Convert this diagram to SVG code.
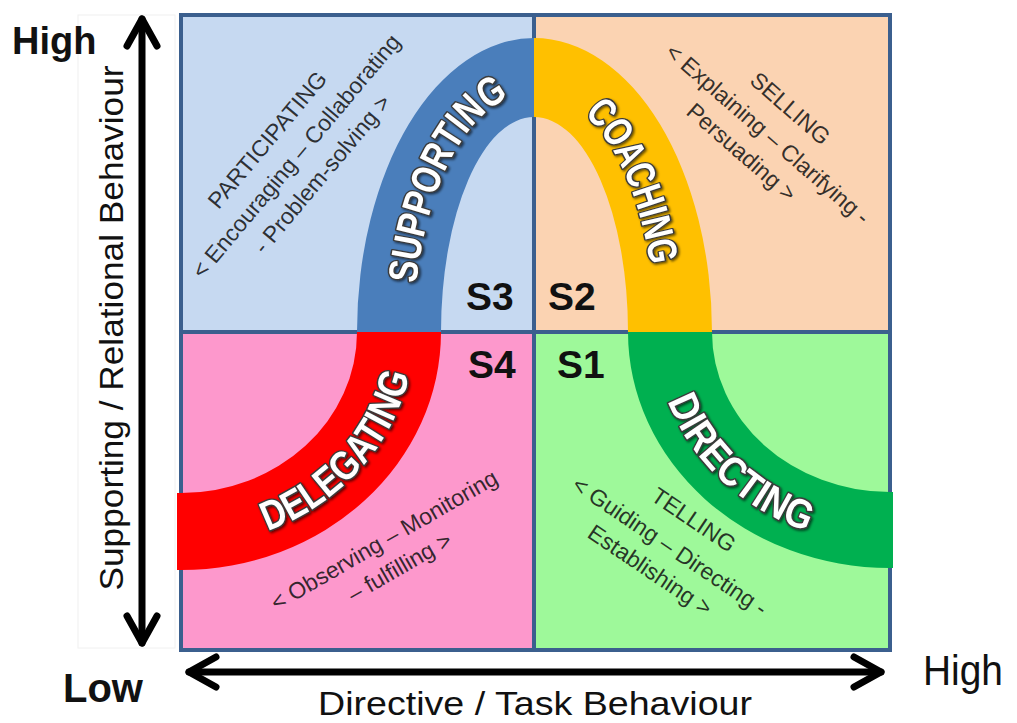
<svg xmlns="http://www.w3.org/2000/svg" width="1017" height="723" viewBox="0 0 1017 723">
<defs>
<style>
.q{stroke:none}
.grid{fill:none;stroke:#3b5f8e;stroke-width:4}
.band{stroke:none}
.arc{font-family:"Liberation Sans",Arial,sans-serif;font-weight:bold;font-size:41px;fill:#ffffff;stroke:#3a3a3a;stroke-width:3;paint-order:stroke;stroke-linejoin:round;filter:url(#sh)}
.desc{font-family:"Liberation Sans",Arial,sans-serif;font-size:23px;fill:#111;fill-opacity:0.86;text-anchor:middle}
.sl{font-family:"Liberation Sans",Arial,sans-serif;font-weight:bold;font-size:39px;fill:#111}
.ax{font-family:"Liberation Sans",Arial,sans-serif;fill:#111}
.axis{fill:none;stroke:#000;stroke-width:7;stroke-linecap:round}
</style>
<filter id="sh" x="-20%" y="-20%" width="140%" height="140%">
<feDropShadow dx="1.5" dy="1.5" stdDeviation="1.2" flood-color="#000" flood-opacity="0.6"/>
</filter>
<marker id="chev" markerUnits="userSpaceOnUse" viewBox="-40 -25 50 50" refX="0" refY="0" markerWidth="50" markerHeight="50" orient="auto-start-reverse" overflow="visible">
<path d="M-27,-15 L0,0 L-27,15" fill="none" stroke="#000" stroke-width="7" stroke-linecap="round" stroke-linejoin="round"/>
</marker>
<path id="pBlue" d="M414,332 A120,239.5 0 0 1 534,92.5"/>
<path id="pYellow" d="M534,92.5 A121,239.5 0 0 1 655,332"/>
<path id="pGreen" d="M655,332 A235,213 0 0 0 890,545"/>
<path id="pRed" d="M181,546.5 A233,214.5 0 0 0 414,332"/>
</defs>
<rect width="1017" height="723" fill="#ffffff"/>

<g id="quadrants">
<rect class="q" x="181" y="15" width="353" height="317" fill="#c6d9f1"/>
<rect class="q" x="534" y="15" width="356" height="317" fill="#fbd3b2"/>
<rect class="q" x="181" y="332" width="353" height="318" fill="#fd98cc"/>
<rect class="q" x="534" y="332" width="356" height="318" fill="#9ef99a"/>
<rect class="grid" x="181" y="15" width="709" height="635"/>
<line class="grid" x1="534" y1="15" x2="534" y2="650"/>
<line class="grid" x1="181" y1="332" x2="890" y2="332"/>
</g>

<g id="band-s3">
<path class="band" fill="#4a7ebb" d="M357,332 A177,294 0 0 1 534,38 L534,117 A93,215 0 0 0 441,332 Z"/>
<text class="arc"><textPath href="#pBlue" startOffset="54%" text-anchor="middle" textLength="216" lengthAdjust="spacingAndGlyphs">SUPPORTING</textPath></text>
</g>
<g id="band-s2">
<path class="band" fill="#ffc000" d="M534,38 A178,294 0 0 1 712,332 L628,332 A94,215 0 0 0 534,117 Z"/>
<text class="arc"><textPath href="#pYellow" startOffset="48%" text-anchor="middle" textLength="168" lengthAdjust="spacingAndGlyphs">COACHING</textPath></text>
</g>
<g id="band-s1">
<path class="band" fill="#00b050" d="M628,332 A262,236 0 0 0 890,568 L893,568 L893,492 L890,492 A178,160 0 0 1 712,332 Z"/>
<text class="arc"><textPath href="#pGreen" startOffset="48%" text-anchor="middle" textLength="197" lengthAdjust="spacingAndGlyphs">DIRECTING</textPath></text>
</g>
<g id="band-s4">
<path class="band" fill="#ff0000" d="M441,332 A260,238 0 0 1 181,570 L177,570 L177,493 L181,493 A176,161 0 0 0 357,332 Z"/>
<text class="arc"><textPath href="#pRed" startOffset="56.5%" text-anchor="middle" textLength="220" lengthAdjust="spacingAndGlyphs">DELEGATING</textPath></text>
</g>

<g id="desc-participating" transform="translate(296,156) rotate(-50)">
<text class="desc" x="-6" y="-24.5">PARTICIPATING</text>
<text class="desc" x="0" y="8">&lt; Encouraging – Collaborating</text>
<text class="desc" x="3" y="39.5">- Problem-solving &gt;</text>
</g>
<g id="desc-selling" transform="translate(768,134) rotate(41)">
<text class="desc" x="0" y="-26">SELLING</text>
<text class="desc" x="0" y="8">&lt; Explaining – Clarifying -</text>
<text class="desc" x="-8" y="39">Persuading &gt;</text>
</g>
<g id="desc-delegating" transform="translate(384,540) rotate(-30)">
<text class="desc" x="0" y="8">&lt; Observing – Monitoring</text>
<text class="desc" x="0" y="39">– fulfilling &gt;</text>
</g>
<g id="desc-telling" transform="translate(670,546) rotate(34)">
<text class="desc" x="5" y="-27">TELLING</text>
<text class="desc" x="0" y="8">&lt; Guiding – Directing -</text>
<text class="desc" x="-3" y="39">Establishing &gt;</text>
</g>

<g id="labels-s">
<text class="sl" x="466" y="310">S3</text>
<text class="sl" x="548" y="310">S2</text>
<text class="sl" x="468" y="378">S4</text>
<text class="sl" x="557" y="378">S1</text>
</g>

<g id="connectors">
<rect x="78" y="15" width="97" height="633" fill="none" stroke="#f0f0f0" stroke-width="1"/>
<path class="axis" d="M142,19 L142,643" marker-start="url(#chev)" marker-end="url(#chev)"/>
<path class="axis" d="M189,672 L881,672" marker-start="url(#chev)" marker-end="url(#chev)"/>
</g>

<g id="axis-labels">
<text class="ax" x="12" y="54" font-size="38" font-weight="bold">High</text>
<text class="ax" x="63" y="702" font-size="40" font-weight="bold">Low</text>
<text class="ax" x="923" y="685" font-size="42" textLength="80" lengthAdjust="spacingAndGlyphs">High</text>
<text class="ax" x="535" y="715" font-size="33" text-anchor="middle" textLength="434" lengthAdjust="spacingAndGlyphs">Directive / Task Behaviour</text>
<text class="ax" transform="translate(123,328) rotate(-90)" x="0" y="0" font-size="33" text-anchor="middle" textLength="525" lengthAdjust="spacingAndGlyphs">Supporting / Relational Behaviour</text>
</g>
</svg>
